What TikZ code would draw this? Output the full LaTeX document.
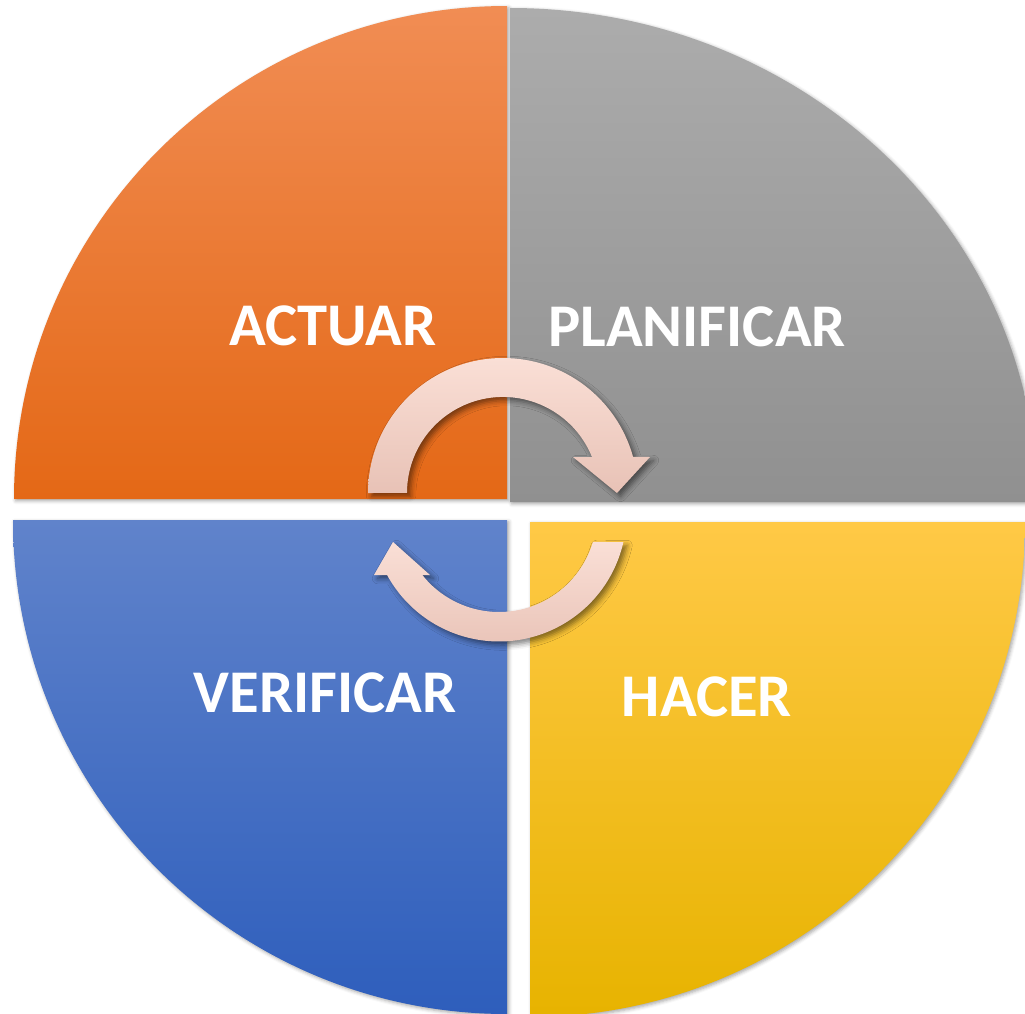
\documentclass[tikz,border=0pt]{standalone}
\usepackage{fontspec}
\setmainfont{Carlito}
\usetikzlibrary{calc, shadows.blur}

\definecolor{actuartop}{RGB}{241,141,84}
\definecolor{actuarmid}{RGB}{242,123,41}
\definecolor{actuarbot}{RGB}{228,104,22}
\definecolor{plantop}{RGB}{172,172,172}
\definecolor{planbot}{RGB}{144,144,144}
\definecolor{verifytop}{RGB}{96,131,203}
\definecolor{verifybot}{RGB}{46,94,188}
\definecolor{hacertop}{RGB}{255,201,70}
\definecolor{hacermid}{RGB}{254,195,2}
\definecolor{hacerbot}{RGB}{231,179,0}
\definecolor{arrowtop}{RGB}{250,223,214}
\definecolor{arrowbot}{RGB}{232,194,182}

\begin{document}
\begin{tikzpicture}[x=0.02cm, y=-0.02cm,
    quarter/.style={blur shadow={shadow xshift=1pt, shadow yshift=-1pt, shadow blur radius=2pt, shadow opacity=35}},
    phase/.style={text=white, font=\fontsize{34.5}{40}\selectfont\bfseries},
    cyclearrow/.style={top color=arrowtop, bottom color=arrowbot,
        blur shadow={shadow xshift=2pt, shadow yshift=-2pt, shadow blur radius=3pt, shadow opacity=50}}]
    \useasboundingbox (0,0) rectangle (1025,1014);
    \clip (0,0) rectangle (1025,1014);

    \shade[quarter, top color=actuartop, middle color=actuarmid, bottom color=actuarbot]
        (507,499) -- (14,499) arc[start angle=180, end angle=270, radius=493] -- cycle;
    \shade[quarter, top color=plantop, bottom color=planbot]
        (510,502) -- (510,8) arc[start angle=270, end angle=360, x radius=527, y radius=494] -- cycle;
    \shade[quarter, top color=verifytop, bottom color=verifybot]
        (507,520) -- (507,1014) arc[start angle=90, end angle=180, radius=494] -- cycle;
    \shade[quarter, top color=hacertop, middle color=hacermid, bottom color=hacerbot]
        (530,522) -- (1025,522) arc[start angle=0, end angle=90, radius=495] -- cycle;

    \node[phase] (actuar) at (333,326) {ACTUAR};
    \node[phase] (planificar) at (697,327) {PLANIFICAR};
    \node[phase] (verificar) at (325,693) {VERIFICAR};
    \node[phase] (hacer) at (707,697) {HACER};

    \shade[cyclearrow] (368,493) arc[start angle=180, end angle=344.5, radius=135]
        -- (650,457) -- (617,493) -- (573,457) -- (592,457)
        arc[start angle=338, end angle=180, radius=96] -- cycle;
    \shade[cyclearrow] (623.4,542) arc[start angle=12.7, end angle=151.4, radius=127.5]
        -- (374,575) -- (393,542) -- (430,575) -- (422.3,575)
        arc[start angle=141.5, end angle=16.6, radius=98] -- cycle;
\end{tikzpicture}
\end{document}
